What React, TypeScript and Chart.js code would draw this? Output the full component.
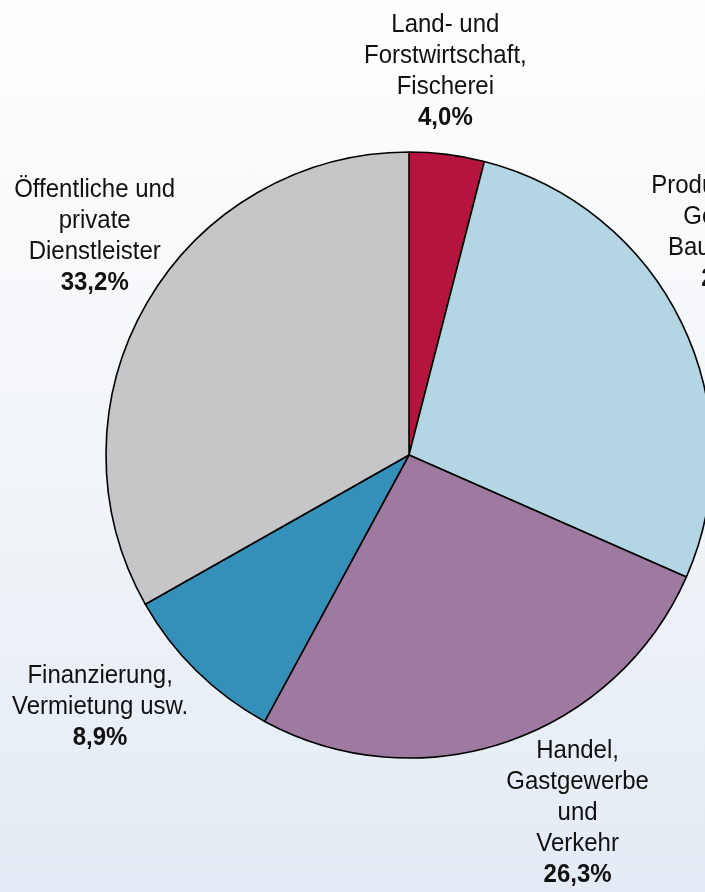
import React, { useEffect, useRef } from "react";
import { Chart, registerables } from "chart.js";

Chart.register(...registerables);

const categoryLines: string[][] = [
  ["Land- und", "Forstwirtschaft,", "Fischerei"],
  ["Produzierendes", "Gewerbe,", "Baugewerbe"],
  ["Handel,", "Gastgewerbe", "und", "Verkehr"],
  ["Finanzierung,", "Vermietung usw."],
  ["Öffentliche und", "private", "Dienstleister"],
];
const categories = categoryLines.map((l) => l.join(" "));
const shares = [4.0, 27.6, 26.3, 8.9, 33.2];
const sliceColors = ["#b5143f", "#b3d5e4", "#9e7aa1", "#3490b8", "#c6c6c8"];
// label offsets (dx, dy of first baseline) relative to an anchor at 1.3 R on the slice mid-angle
const labelOffsets = [
  [-13, -32],
  [-28, -90],
  [41, -70],
  [-33, -53],
  [26, -60],
];

const FONT = "'Liberation Sans', Arial, sans-serif";

const labelPlugin = {
  id: "outerLabels",
  afterDatasetsDraw(chart: any) {
    const ctx = chart.ctx;
    const meta = chart.getDatasetMeta(0);
    ctx.save();
    ctx.fillStyle = "#111111";
    ctx.textAlign = "center";
    ctx.textBaseline = "alphabetic";
    const lh = 31;
    const drawLine = (text: string, x: number, y: number) => {
      ctx.save();
      ctx.translate(x, y);
      ctx.scale(1, 1.06);
      ctx.fillText(text, 0, 0);
      ctx.restore();
    };
    meta.data.forEach((arc: any, i: number) => {
      const p = arc.getProps(["x", "y", "startAngle", "endAngle", "outerRadius"], true);
      const mid = (p.startAngle + p.endAngle) / 2;
      const ax = p.x + Math.cos(mid) * p.outerRadius * 1.3;
      const ay = p.y + Math.sin(mid) * p.outerRadius * 1.3;
      const cx = ax + labelOffsets[i][0];
      let by = ay + labelOffsets[i][1];
      ctx.font = `24px ${FONT}`;
      categoryLines[i].forEach((line) => {
        drawLine(line, cx, by);
        by += lh;
      });
      ctx.font = `bold 24px ${FONT}`;
      drawLine(shares[i].toFixed(1).replace(".", ",") + "%", cx, by);
    });
    ctx.restore();
  },
};

export default function App() {
  const ref = useRef<HTMLCanvasElement | null>(null);
  useEffect(() => {
    if (!ref.current) return;
    const chart = new Chart(ref.current, {
      type: "pie",
      data: {
        labels: categories,
        datasets: [
          {
            data: shares,
            backgroundColor: sliceColors,
            borderColor: "#000000",
            borderWidth: 1.6,
            radius: 303,
          } as any,
        ],
      },
      options: {
        responsive: false,
        animation: false,
        devicePixelRatio: 1,
        layout: { padding: { top: 152, bottom: 134, left: 0, right: 0 } },
        plugins: {
          legend: { display: false },
          tooltip: { enabled: false },
        },
      },
      plugins: [labelPlugin],
    });
    return () => chart.destroy();
  }, []);
  return (
    <div
      style={{
        position: "fixed",
        left: 0,
        top: 0,
        width: 705,
        height: 892,
        overflow: "hidden",
        background: "linear-gradient(to bottom, #fefefe 0%, #f3f6f9 45%, #e3ebf4 100%)",
      }}
    >
      <canvas ref={ref} width={818} height={892} style={{ width: 818, height: 892, display: "block" }} />
    </div>
  );
}
